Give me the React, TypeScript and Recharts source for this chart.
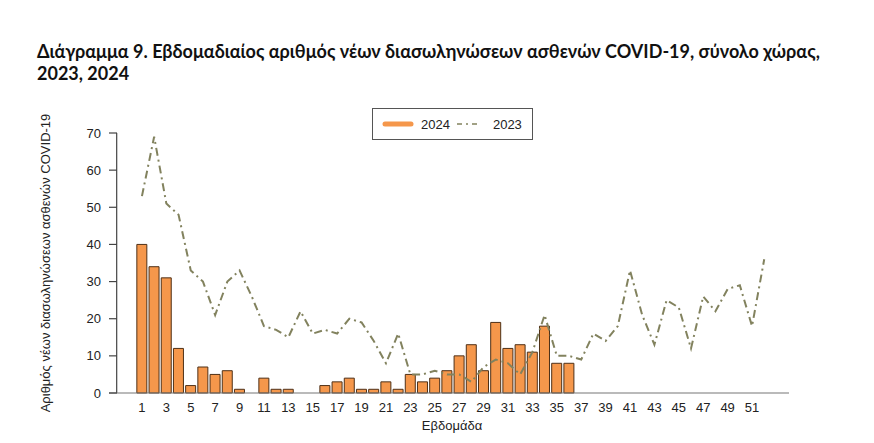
import React from "react";
import {
  Bar,
  ComposedChart,
  Legend,
  Line,
  ReferenceLine,
  XAxis,
  YAxis
} from "recharts";

const weeks = [
  1, 2, 3, 4, 5, 6, 7, 8, 9, 10, 11, 12, 13, 14, 15, 16, 17, 18, 19, 20, 21, 22, 23, 24, 25, 26,
  27, 28, 29, 30, 31, 32, 33, 34, 35, 36, 37, 38, 39, 40, 41, 42, 43, 44, 45, 46, 47, 48, 49, 50,
  51, 52
];

// 2024: data up to week 36
const cases2024 = [
  40, 34, 31, 12, 2, 7, 5, 6, 1, 0, 4, 1, 1, 0, 0, 2, 3, 4, 1, 1, 3, 1, 5, 3, 4, 6, 10, 13, 6, 19,
  12, 13, 11, 18, 8, 8
];

const cases2023 = [
  53, 69, 51, 48, 33, 30, 21, 30, 33, 26, 18, 17, 15, 22, 16, 17, 16, 20, 19, 14, 8, 16, 5, 5, 6,
  5, 5, 3, 7, 9, 8, 5, 11, 21, 10, 10, 9, 16, 14, 18, 33, 21, 13, 25, 23, 12, 26, 22, 28, 29, 18, 36
];

const xTicks = [1, 3, 5, 7, 9, 11, 13, 15, 17, 19, 21, 23, 25, 27, 29, 31, 33, 35, 37, 39, 41, 43, 45, 47, 49, 51];
const yTicks = [0, 10, 20, 30, 40, 50, 60, 70];

const titleLines = [
  "Διάγραμμα 9. Εβδομαδιαίος αριθμός νέων διασωληνώσεων ασθενών COVID-19, σύνολο χώρας,",
  "2023, 2024"
];
const yLabel = "Αριθμός νέων διασωληνώσεων ασθενών COVID-19";
const xLabel = "Εβδομάδα";

const data = weeks.map((w, i) => ({
  week: w,
  y2024: i < cases2024.length ? cases2024[i] : null,
  y2023: cases2023[i]
}));

const ORANGE = "#F5974B";
const OLIVE = "#82825e";
const FONT = "'Liberation Sans', Arial, sans-serif";
const X_DOMAIN: [number, number] = [-1.7, 54.03];
const Y_AXIS_POS = -1.07; // where the vertical axis line sits, in week units

function YTick(props: any) {
  const { x, y, payload } = props;
  return (
    <g>
      <line x1={x + 8} x2={x + 16} y1={y} y2={y} stroke="#444" strokeWidth={1.2} />
      <text x={x} y={y} dy={4.5} textAnchor="end" fontSize={13} fill="#222" fontFamily={FONT}>
        {payload.value}
      </text>
    </g>
  );
}

function LegendBox(props: any) {
  const items = [...(props.payload || [])].sort((a: any, b: any) =>
    a.dataKey === "y2024" ? -1 : b.dataKey === "y2024" ? 1 : 0
  );
  return (
    <div
      style={{
        border: "1px solid #555",
        width: 161,
        height: 32,
        boxSizing: "border-box",
        display: "flex",
        alignItems: "center",
        fontFamily: FONT,
        fontSize: 13,
        color: "#222",
        background: "#fff"
      }}
    >
      {items.map((it: any) =>
        it.dataKey === "y2024" ? (
          <React.Fragment key="a">
            <svg width={32} height={10} style={{ marginLeft: 9 }}>
              <line x1={3} x2={29} y1={5} y2={5} stroke={ORANGE} strokeWidth={5} strokeLinecap="round" />
            </svg>
            <span style={{ marginLeft: 7 }}>{it.value}</span>
          </React.Fragment>
        ) : (
          <React.Fragment key="b">
            <svg width={22} height={10} style={{ marginLeft: 7 }}>
              <line x1={0} x2={22} y1={5} y2={5} stroke={OLIVE} strokeWidth={1.5} strokeDasharray="5 4 2 4" />
            </svg>
            <span style={{ marginLeft: 14 }}>{it.value}</span>
          </React.Fragment>
        )
      )}
    </div>
  );
}

export default function App() {
  return (
    <div style={{ position: "absolute", left: 0, top: 0, width: 874, height: 443, background: "#fff" }}>
      <div
        style={{
          position: "absolute",
          left: 37,
          top: 40,
          width: 830,
          fontFamily: "Lato, 'Open Sans', sans-serif",
          fontWeight: 700,
          fontSize: 18,
          lineHeight: "22px",
          color: "#111"
        }}
      >
        {titleLines.map((t) => (
          <div key={t}>{t}</div>
        ))}
      </div>
      <ComposedChart
        width={874}
        height={443}
        data={data}
        margin={{ top: 133, right: 85, bottom: 10, left: 49 }}
      >
        <XAxis
          dataKey="week"
          type="number"
          domain={X_DOMAIN}
          ticks={xTicks}
          interval={0}
          tickLine={false}
          tickSize={0}
          tickMargin={10}
          height={40}
          axisLine={{ stroke: "#777", strokeWidth: 1.2 }}
          tick={{ fontSize: 13, fill: "#222", fontFamily: FONT }}
          label={{
            value: xLabel,
            position: "insideBottom",
            offset: 3,
            dx: 3,
            style: { fontSize: 13, fill: "#222", fontFamily: FONT }
          }}
        />
        <YAxis
          type="number"
          domain={[0, 70]}
          ticks={yTicks}
          width={60}
          axisLine={false}
          tickLine={false}
          tickSize={0}
          tickMargin={8}
          tick={<YTick />}
          label={{
            value: yLabel,
            angle: -90,
            position: "insideLeft",
            offset: -3.5,
            style: { textAnchor: "middle", fontSize: 13, fill: "#222", fontFamily: FONT }
          }}
        />
        <Legend
          verticalAlign="middle"
          align="center"
          content={<LegendBox />}
          wrapperStyle={{ position: "absolute", top: 108, left: 372, width: 161 }}
        />
        <ReferenceLine
          segment={[
            { x: Y_AXIS_POS, y: 0 },
            { x: Y_AXIS_POS, y: 70 }
          ]}
          stroke="#444"
          strokeWidth={1.2}
        />
        <Bar
          dataKey="y2024"
          name="2024"
          barSize={10}
          fill={ORANGE}
          stroke="#4e3017"
          strokeWidth={1}
          isAnimationActive={false}
        />
        <Line
          dataKey="y2023"
          name="2023"
          type="linear"
          stroke={OLIVE}
          strokeWidth={2}
          strokeDasharray="8 4 2 4"
          dot={false}
          activeDot={false}
          isAnimationActive={false}
        />
      </ComposedChart>
    </div>
  );
}
